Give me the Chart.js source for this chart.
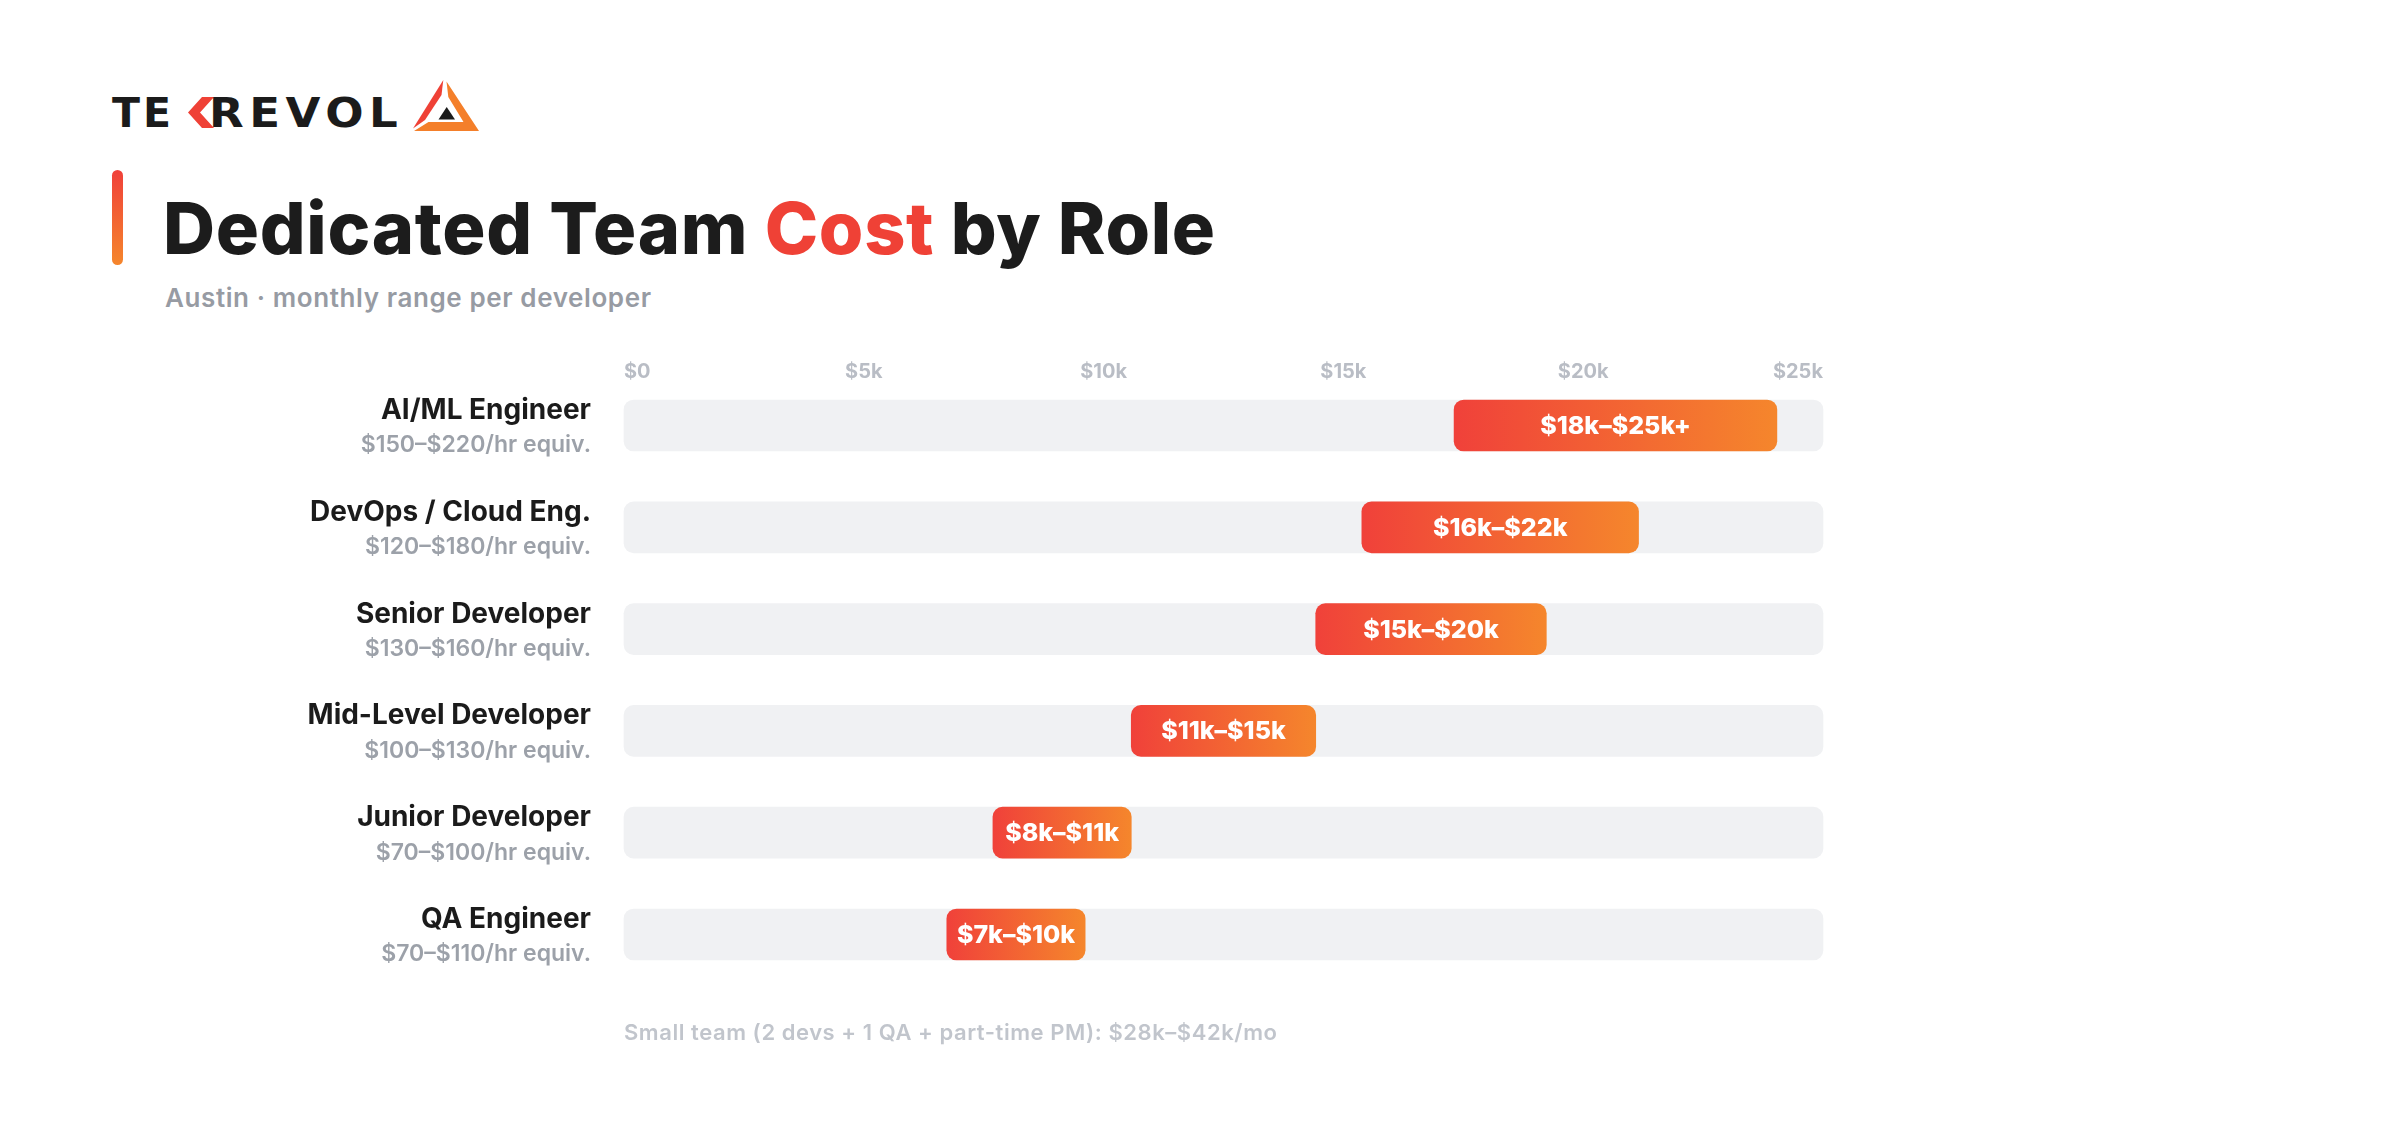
<!DOCTYPE html>
<html>
<head>
<meta charset="utf-8">
<script src="https://cdn.jsdelivr.net/npm/chart.js@4.4.1/dist/chart.umd.min.js"></script>
<style>
html, body { margin: 0; padding: 0; background: #fff; }
body { width: 2400px; height: 1128px; position: relative; overflow: hidden; font-family: Inter, "Noto Sans", sans-serif; }
.logo-txt { position: absolute; top: 93px; font: 700 41px/1 "DejaVu Sans", sans-serif; color: #1b1b1b; transform-origin: left center; }
.accent { position: absolute; left: 112px; top: 170px; width: 11px; height: 95px; border-radius: 6px; background: linear-gradient(#f0403a, #f5862c); }
h1 { position: absolute; left: 163px; top: 192px; margin: 0; font: 800 72px/1 Inter, sans-serif; letter-spacing: 0.7px; color: #1c1c1c; white-space: nowrap; }
h1 span { color: #ef4136; }
.sub { position: absolute; left: 165px; top: 285px; font: 600 26px/1 Inter, sans-serif; letter-spacing: 0.6px; color: #979ba3; white-space: nowrap; }
#chart { position: absolute; left: 0; top: 340px; }
.note { position: absolute; left: 624px; top: 1019px; font: 600 22px/1.2 Inter, sans-serif; letter-spacing: 0.55px; color: #c1c5cc; white-space: nowrap; }
</style>
</head>
<body>
<div class="logo-txt" style="left:112px;letter-spacing:3px">TE</div>
<svg style="position:absolute;left:186px;top:96px" width="30" height="34" viewBox="0 0 30 34">
  <polygon points="16,1 28,1 14,16.5 28,32 16,32 2,16.5" fill="#ef4136"/>
</svg>
<div class="logo-txt" style="left:209px;letter-spacing:5px;transform:scaleX(1.1)">REVOL</div>
<svg style="position:absolute;left:410px;top:78px" width="72" height="58" viewBox="0 0 72 58">
  <polygon points="33.3,2 3,50.5 15,42 31.5,17" fill="#ef4136"/>
  <polygon points="36.5,3.5 69,53 4,53 18.5,44 53.5,44 38.3,19" fill="#f47f2a"/>
  <polygon points="36.7,29 28.5,41.5 45,41.5" fill="#1b1b1b"/>
</svg>

<div class="accent"></div>
<h1>Dedicated Team <span>Cost</span> by Role</h1>
<div class="sub">Austin · monthly range per developer</div>

<canvas id="chart" width="1900" height="680"></canvas>

<div class="note">Small team (2 devs + 1 QA + part-time PM): $28k–$42k/mo</div>

<script>
// roles, top to bottom
const roles = ['AI/ML Engineer', 'DevOps / Cloud Eng.', 'Senior Developer', 'Mid-Level Developer', 'Junior Developer', 'QA Engineer'];
const hourly = ['$150–$220/hr equiv.', '$120–$180/hr equiv.', '$130–$160/hr equiv.', '$100–$130/hr equiv.', '$70–$100/hr equiv.', '$70–$110/hr equiv.'];
// monthly range, in $k
const lowK = [18, 16, 15, 11, 8, 7];
const highK = [25, 22, 20, 15, 11, 10];
const openEnded = [true, false, false, false, false, false];
const tickLabels = ['$0', '$5k', '$10k', '$15k', '$20k', '$25k'];
const trackMaxK = 26;

function rangeText(i) {
  return '$' + lowK[i] + 'k–$' + highK[i] + 'k' + (openEnded[i] ? '+' : '');
}

// hourly line under each role + text on the bars
const extraLabels = {
  id: 'extraLabels',
  afterDatasetsDraw(chart) {
    const ctx = chart.ctx;
    const y = chart.scales.y;
    const area = chart.chartArea;
    ctx.save();
    ctx.textAlign = 'right';
    ctx.textBaseline = 'middle';
    ctx.font = '600 23px Inter';
    ctx.fillStyle = '#9ca1a9';
    hourly.forEach(function(t, i) {
      ctx.fillText(t, area.left - 33, y.getPixelForValue(i) + 20);
    });
    ctx.textAlign = 'center';
    ctx.font = '800 25px Inter';
    ctx.fillStyle = '#ffffff';
    chart.getDatasetMeta(0).data.forEach(function(bar, i) {
      ctx.fillText(rangeText(i), (bar.x + bar.base) / 2, bar.y + 1);
    });
    ctx.restore();
  }
};

const ctx = document.getElementById('chart').getContext('2d');
const myChart = new Chart(ctx, {
  type: 'bar',
  data: {
    labels: roles,
    datasets: [{
      data: lowK.map(function(v, i) { return [v, highK[i]]; }),
      backgroundColor: function(c) {
        const chart = c.chart;
        if (!chart.chartArea || !c.raw) return '#f2583a';
        const x = chart.scales.x;
        const g = chart.ctx.createLinearGradient(x.getPixelForValue(c.raw[0]), 0, x.getPixelForValue(c.raw[1]), 0);
        g.addColorStop(0, '#f0413a');
        g.addColorStop(1, '#f5862c');
        return g;
      },
      borderRadius: 10,
      borderSkipped: false,
      barThickness: 51,
      grouped: false,
      order: 1
    }, {
      // light grey track behind each bar
      data: roles.map(function() { return [0, trackMaxK]; }),
      backgroundColor: '#f0f1f3',
      borderRadius: 10,
      borderSkipped: false,
      barThickness: 51,
      grouped: false,
      order: 2
    }]
  },
  options: {
    indexAxis: 'y',
    responsive: false,
    animation: false,
    clip: false,
    layout: { padding: { left: 0, right: 77, top: 19.5, bottom: 85.5 } },
    plugins: { legend: { display: false }, tooltip: { enabled: false } },
    scales: {
      x: { type: 'linear', min: 0, max: trackMaxK, display: false },
      x2: {
        type: 'category',
        axis: 'x',
        labels: tickLabels,
        position: 'top',
        offset: false,
        grid: { display: false, drawTicks: false },
        border: { display: false },
        ticks: { align: 'inner', autoSkip: false, maxRotation: 0, padding: 42, color: '#b9bdc5', font: { family: 'Inter', size: 20, weight: '700' } },
        afterFit: function(s) { s.height = 66; }
      },
      y: {
        type: 'category',
        offset: false,
        grid: { display: false, drawTicks: false },
        border: { display: false },
        ticks: { padding: 33, labelOffset: -15, color: '#1b1b1b', font: { family: 'Inter', size: 28, weight: '700' } },
        afterFit: function(s) { s.width = 624; }
      }
    }
  },
  plugins: [extraLabels]
});
</script>
</body>
</html>
